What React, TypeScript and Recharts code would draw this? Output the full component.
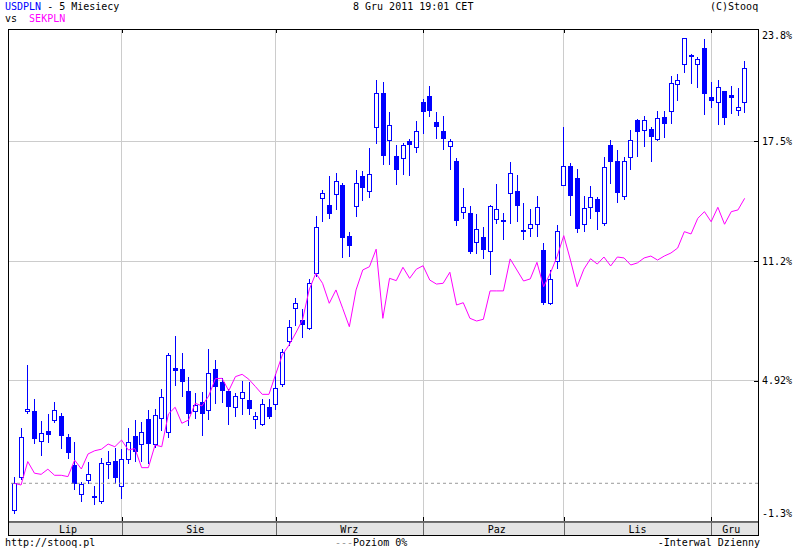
import React from 'react';
import { ComposedChart, Bar, Line, XAxis, YAxis, CartesianGrid, ReferenceLine } from 'recharts';

// ---- categories (trading days, Jul 8 – Dec 8 2011) ----
const JUL = [8, 11, 12, 13, 14, 15, 18, 19, 20, 21, 22, 25, 26, 27, 28, 29];
const AUG = [1, 2, 3, 4, 5, 8, 9, 10, 11, 12, 15, 16, 17, 18, 19, 22, 23, 24, 25, 26, 29, 30, 31];
const SEP = [1, 2, 5, 6, 7, 8, 9, 12, 13, 14, 15, 16, 19, 20, 21, 22, 23, 26, 27, 28, 29, 30];
const OCT = [3, 4, 5, 6, 7, 10, 11, 12, 13, 14, 17, 18, 19, 20, 21, 24, 25, 26, 27, 28, 31];
const NOV = [1, 2, 3, 4, 7, 8, 9, 10, 11, 14, 15, 16, 17, 18, 21, 22, 23, 24, 25, 28, 29, 30];
const DEC = [1, 2, 5, 6, 7, 8];

// ---- USDPLN (% change) ----
const OPEN = [
  -1.87, -0.15, 3.31, 3.31, 1.74, 2.26, 2.86, 3.07, 1.95, 0.49,
  -1.03, -0.31, -1.12, -1.41, 0.53, 0.70, -0.62, 0.79, 2.02, 1.60,
  2.91, 1.60, 2.94, 2.21, 5.57, 5.52, 4.38, 3.31, 3.80, 3.36,
  5.53, 4.85, 4.38, 3.52, 4.00, 3.91, 2.89, 2.65, 3.52, 3.70,
  4.75, 7.00, 8.72, 8.10, 7.67, 10.56, 14.49, 14.14, 14.70, 15.19,
  12.51, 14.09, 15.66, 14.86, 18.25, 20.00, 17.54, 16.70, 16.59, 17.50,
  17.17, 19.53, 19.86, 18.50, 18.03, 17.24, 16.47, 13.76, 13.72, 12.18,
  12.46, 11.74, 13.39, 13.35, 14.76, 14.88, 12.83, 12.92, 13.13, 11.78,
  9.01, 11.19, 15.17, 16.19, 15.56, 13.13, 14.06, 14.45, 13.21, 17.28,
  16.45, 14.61, 16.68, 18.60, 18.08, 18.13, 17.59, 18.75, 19.06, 20.48,
  21.53, 22.02, 21.53, 22.37, 19.80, 19.53, 20.11, 19.90, 19.14, 19.53,
];
const HIGH = [
  -0.12, 2.42, 5.74, 3.96, 2.82, 3.17, 3.80, 3.24, 2.12, 1.70,
  -0.41, 0.65, -0.61, 0.86, 1.24, 1.37, 1.35, 2.42, 2.86, 2.75,
  3.38, 3.42, 4.47, 6.36, 7.27, 6.36, 5.13, 4.29, 4.31, 6.58,
  6.01, 5.04, 4.48, 4.26, 4.90, 4.87, 3.28, 3.94, 3.94, 5.27,
  6.58, 8.10, 9.24, 8.68, 10.24, 13.56, 14.93, 15.66, 15.81, 15.31,
  12.74, 15.98, 15.93, 17.12, 20.70, 20.60, 19.01, 17.29, 17.41, 17.61,
  18.55, 19.70, 20.39, 19.02, 18.81, 17.61, 16.61, 15.03, 14.10, 13.67,
  13.00, 14.14, 15.24, 13.74, 16.40, 15.72, 14.23, 13.93, 14.61, 12.15,
  10.71, 13.09, 18.25, 16.36, 16.05, 14.62, 15.14, 14.56, 16.66, 17.55,
  17.03, 16.66, 18.08, 18.66, 18.81, 18.24, 19.09, 19.09, 20.91, 21.03,
  22.89, 22.07, 21.89, 22.84, 20.60, 20.70, 20.14, 20.39, 20.28, 21.70,
];
const LOW = [
  -2.04, -0.24, 3.21, 1.63, 1.02, 1.70, 2.77, 1.39, 0.86, -0.78,
  -1.38, -0.47, -1.55, -1.49, -0.20, -0.47, -1.25, 0.58, 0.72, 0.72,
  0.58, 1.45, 2.33, 1.98, 4.69, 4.13, 2.59, 2.98, 2.07, 2.91,
  3.73, 3.78, 2.65, 3.08, 3.19, 3.19, 2.45, 2.59, 2.94, 3.45,
  4.64, 6.79, 7.84, 7.23, 7.62, 10.41, 13.32, 13.44, 13.92, 11.43,
  11.48, 13.58, 14.39, 14.55, 17.41, 16.28, 16.28, 15.26, 15.78, 15.73,
  16.94, 17.91, 18.83, 17.66, 17.10, 16.02, 13.08, 13.47, 11.64, 11.64,
  11.38, 10.54, 13.18, 12.37, 13.21, 13.30, 12.36, 12.51, 12.51, 8.93,
  8.93, 10.85, 15.17, 13.62, 12.70, 12.75, 13.47, 12.86, 13.11, 15.31,
  14.32, 14.44, 16.05, 16.71, 17.25, 16.47, 17.55, 17.73, 18.46, 19.65,
  21.14, 20.56, 20.35, 18.93, 19.27, 18.41, 18.41, 18.99, 18.88, 19.04,
];
const CLOSE = [
  -0.47, 1.98, 3.42, 1.84, 2.16, 2.08, 3.38, 2.02, 1.11, -0.52,
  -0.50, 0.02, -1.20, 0.58, 0.64, -0.17, 0.79, 1.69, 1.19, 2.21,
  1.61, 3.10, 4.05, 6.27, 5.44, 4.87, 3.19, 3.63, 3.19, 5.32,
  4.57, 4.39, 3.55, 4.12, 4.33, 3.42, 3.05, 3.68, 3.03, 4.52,
  6.43, 7.75, 8.98, 7.84, 10.03, 12.97, 14.76, 13.65, 15.40, 12.39,
  12.00, 15.28, 15.02, 15.77, 20.00, 16.73, 18.33, 15.99, 17.28, 17.28,
  18.03, 19.01, 19.09, 18.25, 17.62, 17.50, 13.32, 14.04, 11.67, 12.88,
  11.80, 14.10, 13.93, 13.27, 15.82, 14.07, 12.74, 13.14, 14.04, 9.01,
  10.24, 12.76, 16.19, 14.63, 12.90, 13.97, 14.56, 13.76, 16.14, 16.38,
  14.76, 16.45, 17.55, 17.99, 18.60, 17.73, 18.69, 18.41, 20.53, 20.69,
  22.89, 21.89, 21.79, 19.98, 19.62, 20.32, 18.72, 19.77, 19.27, 21.32,
];

// ---- SEKPLN (% change) ----
const SEK = [
  -0.47, -0.56, 0.67, 0.06, 0.00, 0.27, -0.05, -0.05, -0.12, 0.75,
  0.28, 1.07, 1.24, 1.32, 1.59, 1.45, 1.80, 1.28, 1.35, 0.35,
  0.35, 1.54, 1.45, 3.17, 3.52, 2.68, 2.85, 3.73, 3.59, 4.11,
  5.02, 5.04, 4.39, 5.13, 5.25, 4.99, 4.60, 4.20, 4.20, 5.25,
  6.27, 6.79, 7.42, 8.10, 9.68, 10.56, 10.03, 8.98, 9.68, 8.72,
  7.75, 9.68, 10.73, 10.90, 11.82, 8.19, 10.29, 10.17, 10.87, 10.29,
  10.77, 10.95, 10.20, 9.99, 10.03, 10.61, 8.89, 9.01, 8.19, 8.05,
  8.14, 9.63, 9.63, 9.63, 11.31, 10.73, 10.15, 10.26, 11.13, 9.85,
  10.56, 11.43, 12.53, 11.25, 9.85, 10.77, 11.32, 11.04, 11.41, 10.94,
  11.41, 11.36, 10.99, 11.10, 11.36, 11.46, 11.25, 11.46, 11.62, 11.88,
  12.74, 12.62, 13.44, 13.79, 13.26, 14.02, 13.13, 13.79, 13.88, 14.49,
];

// ---- axis ticks and labels ----
const MONTH_STARTS = ['2011-08-01', '2011-09-01', '2011-10-03', '2011-11-01', '2011-12-01'];
const MONTH_LABEL_AT = ['2011-07-20', '2011-08-16', '2011-09-16', '2011-10-18', '2011-11-16', '2011-12-06'];
const MONTH_LABELS = ['Lip', 'Sie', 'Wrz', 'Paz', 'Lis', 'Gru'];
const Y_MIN = -2.45;
const Y_MAX = 23.38;
const Y_TICKS = [Y_MIN, 4.92, 11.2, 17.5, Y_MAX];
const Y_TICK_LABELS = ['-1.3%', '4.92%', '11.2%', '17.5%', '23.8%'];

const pad = (n: number) => (n < 10 ? '0' + n : '' + n);
const DATES: string[] = [
  ...JUL.map((d) => `2011-07-${pad(d)}`),
  ...AUG.map((d) => `2011-08-${pad(d)}`),
  ...SEP.map((d) => `2011-09-${pad(d)}`),
  ...OCT.map((d) => `2011-10-${pad(d)}`),
  ...NOV.map((d) => `2011-11-${pad(d)}`),
  ...DEC.map((d) => `2011-12-${pad(d)}`),
];

const DATA = DATES.map((d, i) => ({
  d,
  o: OPEN[i],
  h: HIGH[i],
  l: LOW[i],
  c: CLOSE[i],
  range: [LOW[i], HIGH[i]],
  sek: SEK[i],
}));

// ---- layout ----
const W = 800;
const H = 550;
const PLOT_LEFT = 8;
const PLOT_TOP = 29;
const PLOT_RIGHT = 758;
const PLOT_BOTTOM = 521;
const STRIP_H = 14;
const FONT = '"DejaVu Sans Mono", "Liberation Mono", monospace';
const BLUE = '#0000ff';
const MAGENTA = '#ff00ff';

const Candle = (props: any) => {
  const { x, y, width, height, payload } = props;
  if (!payload || x == null) return null;
  const { o, h, l, c } = payload;
  const top = Math.min(y, y + height);
  const hh = Math.abs(height);
  const span = h - l || 1;
  const py = (v: number) => top + ((h - v) / span) * hh;
  const c0 = Math.floor(x + width / 2);
  const up = c >= o;
  const bt = Math.round(py(Math.max(o, c)));
  const bb = Math.round(py(Math.min(o, c)));
  return (
    <g shapeRendering="crispEdges">
      <line x1={c0 + 0.5} x2={c0 + 0.5} y1={Math.round(py(h))} y2={Math.round(py(l)) + 1} stroke={BLUE} strokeWidth={1} />
      {up ? (
        <rect x={c0 - 1.5} y={bt + 0.5} width={4} height={Math.max(bb - bt, 1)} fill="#ffffff" stroke={BLUE} strokeWidth={1} />
      ) : (
        <rect x={c0 - 2} y={bt} width={5} height={Math.max(bb - bt, 2)} fill={BLUE} />
      )}
    </g>
  );
};

const YTick = (props: any) => {
  const { x, y, payload, index } = props;
  const i = Y_TICKS.indexOf(payload.value);
  const label = Y_TICK_LABELS[i >= 0 ? i : index];
  const edgeTop = payload.value === Y_MAX;
  const edgeBottom = payload.value === Y_MIN;
  const ty = edgeTop ? y + 6 : edgeBottom ? y - 8 : y;
  return (
    <g>
      {!edgeTop && !edgeBottom && (
        <line x1={x - 4} x2={x} y1={Math.round(y) + 0.5} y2={Math.round(y) + 0.5} stroke="#000" shapeRendering="crispEdges" />
      )}
      <text x={x + 4} y={ty} dominantBaseline="central" fontFamily={FONT} fontSize={10} fill="#000">
        {label}
      </text>
    </g>
  );
};

const MonthLabelTick = (props: any) => {
  const { x, y, payload } = props;
  const i = MONTH_LABEL_AT.indexOf(payload.value);
  return (
    <text x={x} y={y + 7} textAnchor="middle" dominantBaseline="central" fontFamily={FONT} fontSize={10} fill="#000">
      {MONTH_LABELS[i]}
    </text>
  );
};

const MonthStartTick = (props: any) => {
  const { x } = props;
  const px = Math.round(x) + 0.5;
  return (
    <g shapeRendering="crispEdges">
      <line x1={px} x2={px} y1={PLOT_BOTTOM} y2={PLOT_BOTTOM + STRIP_H} stroke="#666" />
      <line x1={px} x2={px} y1={PLOT_BOTTOM - 4} y2={PLOT_BOTTOM} stroke="#000" />
      <line x1={px} x2={px} y1={PLOT_TOP} y2={PLOT_TOP + 4} stroke="#000" />
    </g>
  );
};

const txt: React.CSSProperties = {
  position: 'absolute',
  fontFamily: FONT,
  fontSize: 10,
  lineHeight: '12px',
  color: '#000',
  whiteSpace: 'pre',
};

export default function App() {
  return (
    <div style={{ position: 'absolute', left: 0, top: 0, width: W, height: H, background: '#fff', overflow: 'hidden' }}>
      {/* label strip background */}
      <div
        style={{
          position: 'absolute',
          left: PLOT_LEFT + 1,
          top: PLOT_BOTTOM + 1,
          width: PLOT_RIGHT - PLOT_LEFT - 1,
          height: STRIP_H - 1,
          background: '#e4e4e4',
        }}
      />
      <div style={{ position: 'absolute', left: 0, top: 0 }}>
        <ComposedChart
          width={W}
          height={H}
          data={DATA}
          margin={{ top: PLOT_TOP, right: W - PLOT_RIGHT - 40, bottom: H - PLOT_BOTTOM - STRIP_H - 1, left: PLOT_LEFT }}
        >
          <CartesianGrid stroke="#cccccc" xAxisId="grid" vertical={true} horizontal={true} shapeRendering="crispEdges" />
          <XAxis
            xAxisId="lbl"
            dataKey="d"
            type="category"
            ticks={MONTH_LABEL_AT}
            interval={0}
            height={STRIP_H}
            padding={{ left: 3, right: 10 }}
            axisLine={{ stroke: '#000' }}
            tickLine={false}
            tickSize={0}
            tickMargin={0}
            tick={<MonthLabelTick />}
          />
          <XAxis
            xAxisId="grid"
            dataKey="d"
            type="category"
            ticks={MONTH_STARTS}
            interval={0}
            height={1}
            padding={{ left: 3, right: 10 }}
            axisLine={false}
            tickLine={false}
            tickSize={0}
            tickMargin={0}
            tick={<MonthStartTick />}
          />
          <YAxis
            orientation="right"
            width={40}
            type="number"
            domain={[Y_MIN, Y_MAX]}
            allowDataOverflow
            ticks={Y_TICKS}
            interval={0}
            axisLine={false}
            tickLine={false}
            tickSize={0}
            tickMargin={0}
            tick={<YTick />}
          />
          <ReferenceLine xAxisId="grid" y={CLOSE[0]} stroke="#999999" strokeDasharray="3 3" />
          <Line
            xAxisId="lbl"
            dataKey="sek"
            stroke={MAGENTA}
            strokeWidth={1}
            dot={false}
            activeDot={false}
            type="linear"
            isAnimationActive={false}
          />
          <Bar xAxisId="grid" dataKey="range" barSize={5} shape={<Candle />} isAnimationActive={false} />
        </ComposedChart>
      </div>
      {/* plot frame */}
      <div
        style={{
          position: 'absolute',
          left: PLOT_LEFT,
          top: PLOT_TOP,
          width: PLOT_RIGHT - PLOT_LEFT + 1,
          height: PLOT_BOTTOM + STRIP_H - PLOT_TOP + 1,
          boxSizing: 'border-box',
          border: '1px solid #000',
          pointerEvents: 'none',
        }}
      />
      {/* header */}
      <div style={{ ...txt, left: 5, top: 1 }}>
        <span style={{ color: BLUE }}>USDPLN</span> - 5 Miesiecy
      </div>
      <div style={{ ...txt, left: 353, top: 1 }}>8 Gru 2011 19:01 CET</div>
      <div style={{ ...txt, left: 710, top: 1, width: 48, textAlign: 'right' }}>(C)Stooq</div>
      <div style={{ ...txt, left: 5, top: 13 }}>
        vs  <span style={{ color: MAGENTA }}>SEKPLN</span>
      </div>
      {/* footer */}
      <div style={{ ...txt, left: 5, top: 537 }}>http://stooq.pl</div>
      <div style={{ ...txt, left: 335, top: 537 }}>
        <span style={{ color: '#999' }}>---</span>Poziom 0%
      </div>
      <div style={{ ...txt, left: 600, top: 537, width: 160, textAlign: 'right' }}>-Interwal Dzienny</div>
    </div>
  );
}
